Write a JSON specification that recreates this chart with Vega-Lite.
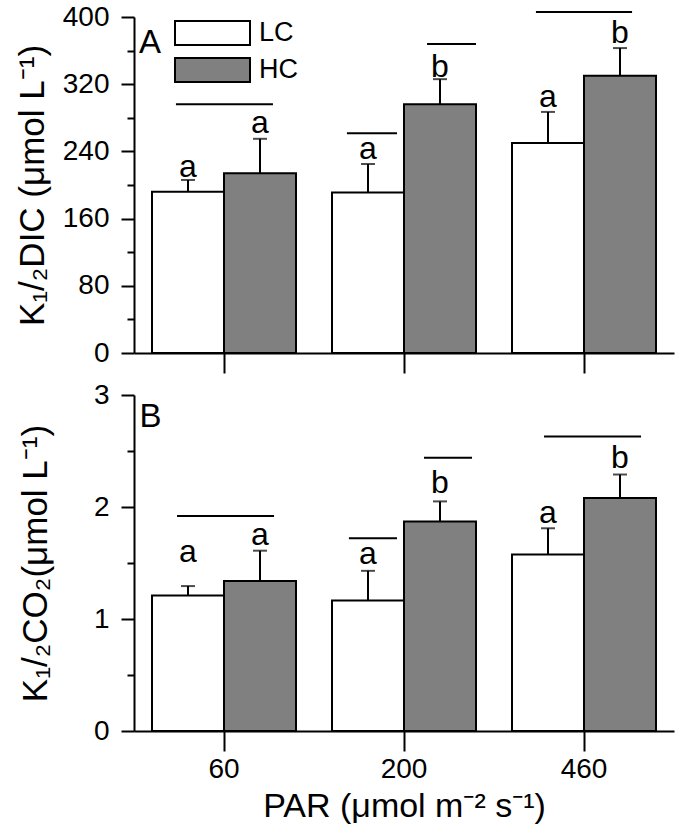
{
  "$schema": "https://vega.github.io/schema/vega-lite/v6.json",
  "background": "white",
  "padding": {"left": 15, "top": 3, "right": 5, "bottom": 5},
  "spacing": 42,
  "bounds": "flush",
  "config": {
    "view": {"stroke": null},
    "font": "Liberation Sans",
    "axis": {
      "domainColor": "black", "domainWidth": 2, "tickColor": "black", "tickWidth": 2,
      "labelColor": "black", "titleColor": "black", "labelFontSize": 28, "titleFontSize": 35,
      "titleFontWeight": "normal", "grid": false, "labelFont": "Liberation Sans", "titleFont": "Liberation Sans"
    }
  },
  "datasets": {
    "dic": [
      {"par": "60", "treat": "LC", "mean": 192, "upper": 206, "letter": "a", "ly": 210},
      {"par": "60", "treat": "HC", "mean": 214, "upper": 255, "letter": "a", "ly": 261.5},
      {"par": "200", "treat": "LC", "mean": 191, "upper": 225, "letter": "a", "ly": 230.5},
      {"par": "200", "treat": "HC", "mean": 296, "upper": 326, "letter": "b", "ly": 328.5},
      {"par": "460", "treat": "LC", "mean": 250, "upper": 287, "letter": "a", "ly": 293},
      {"par": "460", "treat": "HC", "mean": 330, "upper": 363, "letter": "b", "ly": 369.5}
    ],
    "co2": [
      {"par": "60", "treat": "LC", "mean": 1.21, "upper": 1.294, "letter": "a", "ly": 1.505},
      {"par": "60", "treat": "HC", "mean": 1.34, "upper": 1.61, "letter": "a", "ly": 1.665},
      {"par": "200", "treat": "LC", "mean": 1.166, "upper": 1.43, "letter": "a", "ly": 1.487},
      {"par": "200", "treat": "HC", "mean": 1.87, "upper": 2.05, "letter": "b", "ly": 2.125},
      {"par": "460", "treat": "LC", "mean": 1.576, "upper": 1.81, "letter": "a", "ly": 1.858},
      {"par": "460", "treat": "HC", "mean": 2.08, "upper": 2.29, "letter": "b", "ly": 2.348}
    ],
    "sigA": [
      {"x1": 0.233, "x2": 0.772, "y": 296},
      {"x1": 1.183, "x2": 1.461, "y": 261.5},
      {"x1": 1.628, "x2": 1.9, "y": 368},
      {"x1": 2.233, "x2": 2.767, "y": 406}
    ],
    "sigB": [
      {"x1": 0.239, "x2": 0.778, "y": 1.92},
      {"x1": 1.194, "x2": 1.461, "y": 1.72},
      {"x1": 1.611, "x2": 1.878, "y": 2.44},
      {"x1": 2.278, "x2": 2.817, "y": 2.63}
    ],
    "panelA": [{"lab": "A", "x": 0.028, "y": 357}],
    "panelB": [{"lab": "B", "x": 0.03, "y": 2.71}]
  },
  "vconcat": [
    {
      "width": 540, "height": 336,
      "resolve": {"scale": {"x": "independent"}, "axis": {"y": "independent", "x": "independent"}},
      "layer": [
        {
          "data": {"name": "dic"},
          "mark": {"type": "bar", "stroke": "black", "strokeWidth": 2},
          "encoding": {
            "x": {"field": "par", "type": "nominal", "sort": ["60", "200", "460"], "scale": {"paddingInner": 0.2, "paddingOuter": 0.1}, "axis": {"labels": false, "title": null, "tickSize": 20}},
            "xOffset": {"field": "treat", "sort": ["LC", "HC"], "scale": {"paddingInner": 0, "paddingOuter": 0}},
            "y": {"field": "mean", "type": "quantitative", "scale": {"domain": [0, 400]}, "axis": {"values": [0, 80, 160, 240, 320, 400], "tickSize": 13, "labelPadding": 12, "titlePadding": 12, "title": "K₁/₂DIC (μmol L⁻¹)"}},
            "color": {"field": "treat", "sort": ["LC", "HC"], "scale": {"domain": ["LC", "HC"], "range": ["white", "#808080"]},
              "legend": {"orient": "none", "legendX": 65, "legendY": 2.5, "title": null, "symbolType": "M-3,-0.96H3V0.96H-3Z", "symbolSize": 625, "symbolStrokeColor": "black", "symbolStrokeWidth": 2, "symbolOpacity": 1, "labelFontSize": 27, "labelFont": "Liberation Sans", "labelColor": "black", "labelOffset": 33, "rowPadding": 4}}
          }
        },
        {
          "data": {"name": "dic"},
          "mark": {"type": "rule", "strokeWidth": 2, "color": "black"},
          "encoding": {
            "x": {"field": "par", "type": "nominal", "sort": ["60", "200", "460"], "scale": {"paddingInner": 0.2, "paddingOuter": 0.1}, "axis": null},
            "xOffset": {"field": "treat", "sort": ["LC", "HC"], "scale": {"paddingInner": 0, "paddingOuter": 0}},
            "y": {"field": "mean", "type": "quantitative", "scale": {"domain": [0, 400]}, "axis": {"values": [40, 120, 200, 280, 360], "labels": false, "domain": false, "tickSize": 7, "title": null, "orient": "left"}},
            "y2": {"field": "upper"}
          }
        },
        {
          "data": {"name": "dic"},
          "mark": {"type": "tick", "orient": "horizontal", "size": 14, "thickness": 2, "color": "black"},
          "encoding": {
            "x": {"field": "par", "type": "nominal", "sort": ["60", "200", "460"], "scale": {"paddingInner": 0.2, "paddingOuter": 0.1}, "axis": null},
            "xOffset": {"field": "treat", "sort": ["LC", "HC"], "scale": {"paddingInner": 0, "paddingOuter": 0}},
            "y": {"field": "upper", "type": "quantitative", "scale": {"domain": [0, 400]}, "axis": null}
          }
        },
        {
          "data": {"name": "dic"},
          "mark": {"type": "text", "fontSize": 32, "baseline": "alphabetic", "color": "black"},
          "encoding": {
            "x": {"field": "par", "type": "nominal", "sort": ["60", "200", "460"], "scale": {"paddingInner": 0.2, "paddingOuter": 0.1}, "axis": null},
            "xOffset": {"field": "treat", "sort": ["LC", "HC"], "scale": {"paddingInner": 0, "paddingOuter": 0}},
            "y": {"field": "ly", "type": "quantitative", "scale": {"domain": [0, 400]}, "axis": null},
            "text": {"field": "letter"}
          }
        },
        {
          "data": {"name": "sigA"},
          "mark": {"type": "rule", "strokeWidth": 2, "color": "black", "clip": false},
          "encoding": {
            "x": {"field": "x1", "type": "quantitative", "scale": {"domain": [0, 3], "nice": false}, "axis": null},
            "x2": {"field": "x2"},
            "y": {"field": "y", "type": "quantitative", "scale": {"domain": [0, 400]}, "axis": null}
          }
        },
        {
          "data": {"name": "panelA"},
          "mark": {"type": "text", "fontSize": 33, "align": "left", "baseline": "alphabetic", "color": "black"},
          "encoding": {
            "x": {"field": "x", "type": "quantitative", "scale": {"domain": [0, 3], "nice": false}, "axis": null},
            "y": {"field": "y", "type": "quantitative", "scale": {"domain": [0, 400]}, "axis": null},
            "text": {"field": "lab"}
          }
        }
      ]
    },
    {
      "width": 540, "height": 336,
      "resolve": {"scale": {"x": "independent"}, "axis": {"y": "independent", "x": "independent"}},
      "layer": [
        {
          "data": {"name": "co2"},
          "mark": {"type": "bar", "stroke": "black", "strokeWidth": 2},
          "encoding": {
            "x": {"field": "par", "type": "nominal", "sort": ["60", "200", "460"], "scale": {"paddingInner": 0.2, "paddingOuter": 0.1}, "axis": {"labelAngle": 0, "tickSize": 20, "labelPadding": 4, "title": "PAR (μmol m⁻² s⁻¹)", "titleFontSize": 34, "titlePadding": 6}},
            "xOffset": {"field": "treat", "sort": ["LC", "HC"], "scale": {"paddingInner": 0, "paddingOuter": 0}},
            "y": {"field": "mean", "type": "quantitative", "scale": {"domain": [0, 3]}, "axis": {"values": [0, 1, 2, 3], "tickSize": 13, "labelPadding": 12, "titlePadding": 40, "title": "K₁/₂CO₂(μmol L⁻¹)"}},
            "color": {"field": "treat", "sort": ["LC", "HC"], "scale": {"domain": ["LC", "HC"], "range": ["white", "#808080"]}, "legend": null}
          }
        },
        {
          "data": {"name": "co2"},
          "mark": {"type": "rule", "strokeWidth": 2, "color": "black"},
          "encoding": {
            "x": {"field": "par", "type": "nominal", "sort": ["60", "200", "460"], "scale": {"paddingInner": 0.2, "paddingOuter": 0.1}, "axis": null},
            "xOffset": {"field": "treat", "sort": ["LC", "HC"], "scale": {"paddingInner": 0, "paddingOuter": 0}},
            "y": {"field": "mean", "type": "quantitative", "scale": {"domain": [0, 3]}, "axis": {"values": [0.5, 1.5, 2.5], "labels": false, "domain": false, "tickSize": 7, "title": null, "orient": "left"}},
            "y2": {"field": "upper"}
          }
        },
        {
          "data": {"name": "co2"},
          "mark": {"type": "tick", "orient": "horizontal", "size": 14, "thickness": 2, "color": "black"},
          "encoding": {
            "x": {"field": "par", "type": "nominal", "sort": ["60", "200", "460"], "scale": {"paddingInner": 0.2, "paddingOuter": 0.1}, "axis": null},
            "xOffset": {"field": "treat", "sort": ["LC", "HC"], "scale": {"paddingInner": 0, "paddingOuter": 0}},
            "y": {"field": "upper", "type": "quantitative", "scale": {"domain": [0, 3]}, "axis": null}
          }
        },
        {
          "data": {"name": "co2"},
          "mark": {"type": "text", "fontSize": 32, "baseline": "alphabetic", "color": "black"},
          "encoding": {
            "x": {"field": "par", "type": "nominal", "sort": ["60", "200", "460"], "scale": {"paddingInner": 0.2, "paddingOuter": 0.1}, "axis": null},
            "xOffset": {"field": "treat", "sort": ["LC", "HC"], "scale": {"paddingInner": 0, "paddingOuter": 0}},
            "y": {"field": "ly", "type": "quantitative", "scale": {"domain": [0, 3]}, "axis": null},
            "text": {"field": "letter"}
          }
        },
        {
          "data": {"name": "sigB"},
          "mark": {"type": "rule", "strokeWidth": 2, "color": "black", "clip": false},
          "encoding": {
            "x": {"field": "x1", "type": "quantitative", "scale": {"domain": [0, 3], "nice": false}, "axis": null},
            "x2": {"field": "x2"},
            "y": {"field": "y", "type": "quantitative", "scale": {"domain": [0, 3]}, "axis": null}
          }
        },
        {
          "data": {"name": "panelB"},
          "mark": {"type": "text", "fontSize": 33, "align": "left", "baseline": "alphabetic", "color": "black"},
          "encoding": {
            "x": {"field": "x", "type": "quantitative", "scale": {"domain": [0, 3], "nice": false}, "axis": null},
            "y": {"field": "y", "type": "quantitative", "scale": {"domain": [0, 3]}, "axis": null},
            "text": {"field": "lab"}
          }
        }
      ]
    }
  ]
}
